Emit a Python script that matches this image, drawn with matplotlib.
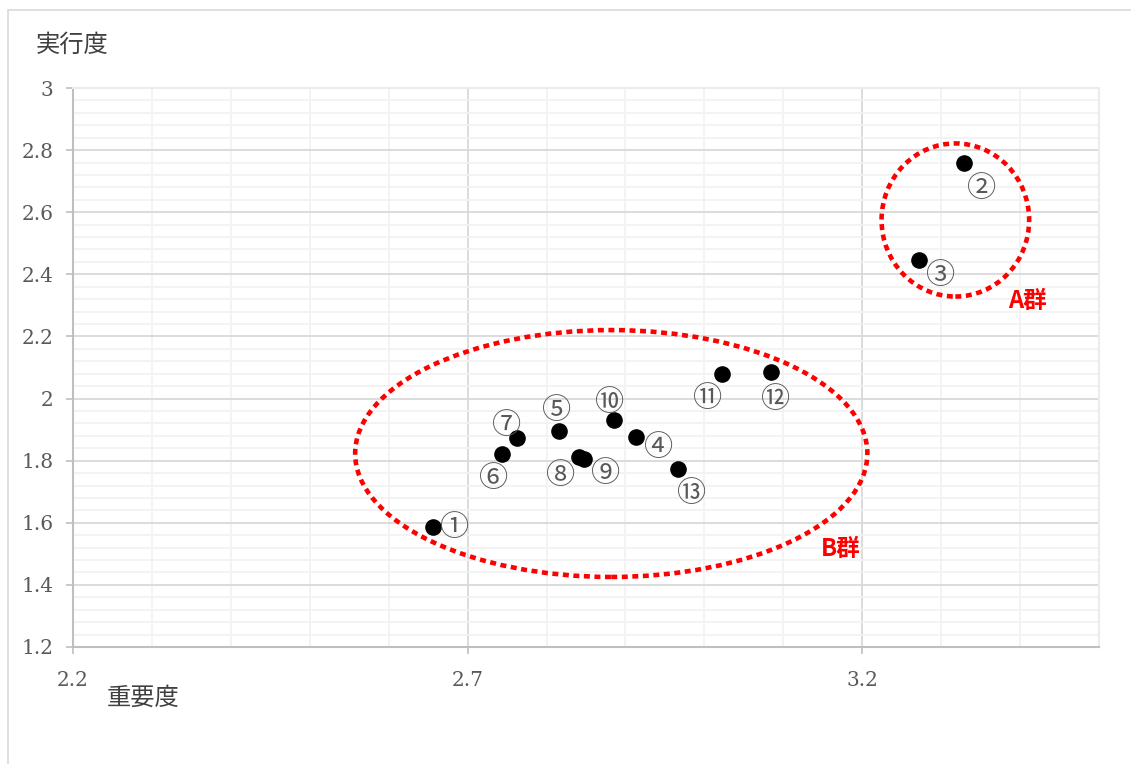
import matplotlib
matplotlib.use('Agg')
import matplotlib.pyplot as plt
from matplotlib.patches import Ellipse, Rectangle
from matplotlib.ticker import FixedLocator, MultipleLocator, FuncFormatter

plt.rcParams['font.family'] = ['Noto Sans CJK JP', 'DejaVu Sans']

# 重要度 (x) と 実行度 (y)
labels = ['①', '②', '③', '④', '⑤', '⑥', '⑦', '⑧', '⑨', '⑩', '⑪', '⑫', '⑬']
importance = [2.656, 3.329, 3.272, 2.913, 2.816, 2.744, 2.762, 2.841, 2.847, 2.886, 3.022, 3.084, 2.967]
performance = [1.587, 2.759, 2.446, 1.876, 1.896, 1.822, 1.873, 1.812, 1.806, 1.931, 2.079, 2.086, 1.773]
x_ticks = [2.2, 2.7, 3.2]

# label offsets from each point (pixels)
label_offsets = [(22, -1), (18, -26), (22, -16), (23, -11), (-3, 20), (-9, -25), (-10, 12),
                 (-18, -19), (22, -15), (-5, 17), (-14, -25), (5, -28), (13, -25)]

fig = plt.figure(figsize=(11.31, 7.64), dpi=100)
fig.patch.set_facecolor('white')

# outer chart frame
fig.add_artist(Rectangle((8 / 1131, -0.05), 1.1, 1 - 10 / 764 + 0.05,
                         transform=fig.transFigure, fill=False,
                         edgecolor='#d9d9d9', lw=1.2))

ax = fig.add_axes([73 / 1131, 1 - 647 / 764, (1099 - 73) / 1131, (647 - 88) / 764])
ax.set_xlim(2.2, 3.5)
ax.set_ylim(1.2, 3.0)

ax.xaxis.set_major_locator(FixedLocator(x_ticks))
ax.xaxis.set_minor_locator(MultipleLocator(0.1))
ax.yaxis.set_major_locator(MultipleLocator(0.2))
ax.yaxis.set_minor_locator(MultipleLocator(0.04))
ax.xaxis.set_major_formatter(FuncFormatter(lambda v, p: f'{v:g}'))
ax.yaxis.set_major_formatter(FuncFormatter(lambda v, p: f'{v:g}'))

ax.grid(which='minor', color='#f2f2f2', lw=1.3)
ax.grid(which='major', color='#d9d9d9', lw=1.3)
ax.set_axisbelow(True)

for side in ['top', 'right']:
    ax.spines[side].set_color('#ececec')
    ax.spines[side].set_linewidth(1.5)
for side in ['left', 'bottom']:
    ax.spines[side].set_color('#bfbfbf')
    ax.spines[side].set_linewidth(1.5)

ax.tick_params(which='minor', length=0)
ax.tick_params(which='major', length=5, width=1.2, color='#bfbfbf',
               labelsize=14.5, labelcolor='#595959')
ax.tick_params(axis='x', pad=12)
ax.tick_params(axis='y', pad=9)
for t in ax.get_xticklabels() + ax.get_yticklabels():
    t.set_fontfamily('DejaVu Serif')

ax.scatter(importance, performance, s=120, color='black', zorder=3)

for lab, x, y, (dx, dy) in zip(labels, importance, performance, label_offsets):
    ax.annotate(lab, (x, y), xytext=(dx, dy), textcoords='offset pixels',
                ha='center', va='center', fontsize=21, color='#595959', zorder=4)

# group outlines
dots = (0, (1.3, 1.0))
ax.add_patch(Ellipse((3.318, 2.575), 0.187, 0.493, fill=False, edgecolor='#ff0000',
                     lw=3.3, linestyle=dots, zorder=2))
ax.add_patch(Ellipse((2.882, 1.823), 0.649, 0.795, fill=False, edgecolor='#ff0000',
                     lw=3.3, linestyle=dots, zorder=2))
ax.text(3.409, 2.314, 'A群', color='#ff0000', fontsize=17, fontweight='bold',
        ha='center', va='center')
ax.text(3.173, 1.516, 'B群', color='#ff0000', fontsize=17, fontweight='bold',
        ha='center', va='center')

fig.text(72 / 1131, 1 - 45 / 764, '実行度', fontsize=17.5, color='#404040',
         ha='center', va='center')
fig.text(143 / 1131, 1 - 698 / 764, '重要度', fontsize=17.5, color='#404040',
         ha='center', va='center')

fig.savefig('out.png', dpi=100)
